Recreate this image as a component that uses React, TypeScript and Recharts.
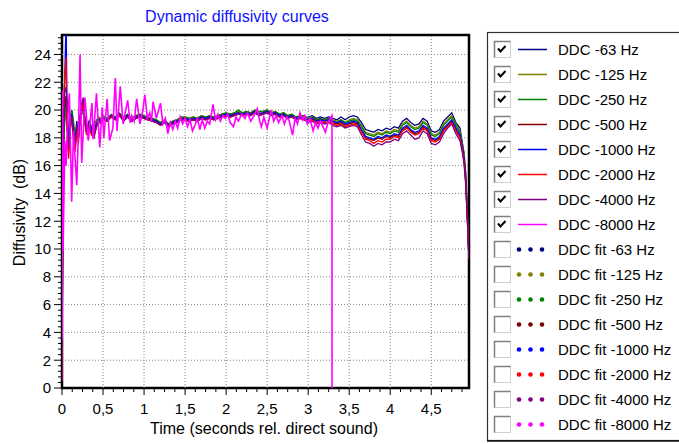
import React from 'react';
import { Line, LineChart, ReferenceArea, ReferenceLine, XAxis, YAxis } from 'recharts';

// time axis shared by the 63..4000 Hz curves (seconds rel. direct sound)
const TIME = [
  0, 0.01, 0.02, 0.03, 0.04, 0.05, 0.06, 0.08, 0.1, 0.12, 0.14, 0.16, 0.18, 0.2, 0.22, 0.24, 0.26, 0.28, 0.3, 0.33, 0.36, 0.39, 0.42, 0.45, 0.48,
  0.5, 0.55, 0.6, 0.65, 0.7, 0.75, 0.8, 0.85, 0.9, 0.95,
  1, 1.05, 1.1, 1.15, 1.2, 1.25, 1.3, 1.35, 1.4, 1.45,
  1.5, 1.55, 1.6, 1.65, 1.7, 1.75, 1.8, 1.85, 1.9, 1.95,
  2, 2.05, 2.1, 2.15, 2.2, 2.25, 2.3, 2.35, 2.4, 2.45,
  2.5, 2.55, 2.6, 2.65, 2.7, 2.75, 2.8, 2.85, 2.9, 2.95,
  3, 3.05, 3.1, 3.15, 3.2, 3.25, 3.3, 3.35, 3.4, 3.45,
  3.5, 3.55, 3.6, 3.65, 3.7, 3.75, 3.8, 3.85, 3.9, 3.95,
  4, 4.05, 4.1, 4.15, 4.2, 4.25, 4.3, 4.35, 4.4, 4.45,
  4.5, 4.55, 4.6, 4.65, 4.7, 4.75, 4.8, 4.85,
  4.88, 4.9, 4.92, 4.94, 4.96,
];

const DDC_63 = [
  0.5, 11.5, 16.8, 18.9, 20.1, 20.6, 19.4, 17.6, 19.3, 19.8, 18.6, 17.9, 19.2, 18.3, 19.1, 19.9, 20.3, 19.4, 18.6, 19.2, 18.7, 18.4, 19.0, 19.4, 19.2,
  19.3, 19.2, 19.5, 19.3, 19.6, 19.2, 19.5, 19.2, 19.4, 19.5,
  19.4, 19.3, 19.2, 19.1, 18.9, 19.1, 18.8, 19.0, 19.1, 19.3,
  19.3, 19.2, 19.4, 19.3, 19.4, 19.3, 19.5, 19.4, 19.5, 19.5,
  19.6, 19.5, 19.7, 19.8, 19.6, 19.8, 19.6, 19.9, 19.6, 19.7,
  19.9, 19.7, 19.8, 19.6, 19.7, 19.5, 19.6, 19.5, 19.5, 19.4,
  19.5, 19.6, 19.4, 19.5, 19.4, 19.5, 19.4, 19.3, 19.5, 19.3,
  19.5, 19.6, 19.5, 19.1, 18.6, 18.5, 18.4, 18.6, 18.5, 18.7,
  18.6, 18.8, 18.7, 19.2, 19.4, 19.1, 18.9, 19.0, 19.4, 19.2,
  18.5, 18.4, 18.6, 19.2, 19.5, 19.8, 19.1, 18.7,
  17.6, 16.9, 15.5, 12.8, 9.4,
];

const DDC_125 = [
  0.5, 13.0, 17.5, 19.2, 19.8, 20.2, 19.0, 17.9, 19.0, 20.0, 18.9, 17.6, 19.0, 18.5, 19.3, 20.1, 20.0, 19.2, 18.8, 19.0, 18.5, 18.6, 19.2, 19.5, 19.3,
  19.5, 19.3, 19.6, 19.5, 19.7, 19.4, 19.7, 19.3, 19.6, 19.7,
  19.5, 19.4, 19.4, 19.3, 19.1, 19.3, 19.0, 19.2, 19.3, 19.4,
  19.5, 19.4, 19.5, 19.4, 19.6, 19.5, 19.6, 19.5, 19.6, 19.7,
  19.8, 19.7, 19.8, 19.9, 19.8, 19.9, 19.8, 20.0, 19.8, 19.9,
  20.0, 19.8, 19.9, 19.7, 19.8, 19.6, 19.7, 19.5, 19.6, 19.5,
  19.4, 19.5, 19.3, 19.4, 19.3, 19.4, 19.3, 19.2, 19.3, 19.1,
  19.3, 19.4, 19.3, 18.9, 18.4, 18.3, 18.2, 18.4, 18.3, 18.5,
  18.4, 18.6, 18.5, 19.0, 19.2, 18.9, 18.7, 18.8, 19.2, 19.0,
  18.3, 18.2, 18.4, 19.0, 19.3, 19.6, 19.0, 18.5,
  17.5, 16.8, 15.3, 12.6, 9.3,
];

const DDC_250 = [
  0.5, 14.0, 18.0, 19.5, 20.3, 19.6, 18.4, 18.3, 19.6, 20.0, 19.2, 18.0, 18.8, 18.9, 19.6, 19.8, 19.7, 19.0, 18.9, 18.8, 18.9, 18.8, 19.3, 19.4, 19.4,
  19.6, 19.4, 19.7, 19.5, 19.8, 19.5, 19.7, 19.4, 19.6, 19.7,
  19.6, 19.5, 19.4, 19.3, 19.1, 19.3, 19.0, 19.2, 19.3, 19.5,
  19.5, 19.4, 19.5, 19.4, 19.6, 19.5, 19.6, 19.5, 19.6, 19.7,
  19.8, 19.7, 19.8, 20.0, 19.8, 19.9, 19.8, 20.0, 19.9, 19.9,
  20.0, 19.8, 19.9, 19.7, 19.8, 19.6, 19.7, 19.5, 19.6, 19.6,
  19.4, 19.5, 19.3, 19.4, 19.3, 19.4, 19.2, 19.1, 19.3, 19.1,
  19.2, 19.3, 19.2, 18.8, 18.3, 18.2, 18.1, 18.3, 18.2, 18.4,
  18.3, 18.5, 18.4, 18.9, 19.1, 18.8, 18.6, 18.7, 19.1, 18.9,
  18.2, 18.1, 18.3, 18.9, 19.2, 19.5, 18.9, 18.4,
  17.4, 16.6, 15.1, 12.4, 9.3,
];

const DDC_500 = [
  0.5, 15.0, 19.0, 20.2, 20.8, 21.0, 19.6, 17.0, 18.7, 19.6, 18.0, 17.2, 18.6, 17.9, 19.4, 20.3, 20.6, 19.1, 18.3, 18.9, 18.3, 18.2, 18.9, 19.2, 19.1,
  19.4, 19.3, 19.6, 19.4, 19.7, 19.4, 19.6, 19.3, 19.5, 19.6,
  19.5, 19.4, 19.3, 19.2, 19.0, 19.2, 18.9, 19.1, 19.2, 19.4,
  19.4, 19.3, 19.4, 19.3, 19.5, 19.4, 19.5, 19.4, 19.5, 19.6,
  19.7, 19.6, 19.7, 19.8, 19.7, 19.8, 19.7, 19.9, 19.7, 19.8,
  19.9, 19.7, 19.8, 19.6, 19.7, 19.5, 19.6, 19.4, 19.5, 19.4,
  19.3, 19.4, 19.2, 19.3, 19.2, 19.3, 19.1, 19.0, 19.1, 18.9,
  19.0, 19.1, 19.0, 18.5, 18.0, 17.9, 17.8, 18.0, 17.9, 18.1,
  18.0, 18.2, 18.1, 18.6, 18.8, 18.5, 18.3, 18.4, 18.8, 18.6,
  17.9, 17.8, 18.0, 18.6, 18.9, 19.2, 18.6, 18.1,
  17.2, 16.4, 14.9, 12.2, 9.3,
];

const DDC_1000 = [
  0.5, 16.0, 19.5, 21.5, 24.0, 26.5, 21.0, 18.0, 19.0, 19.7, 18.4, 17.7, 19.0, 18.2, 19.2, 19.9, 20.2, 19.3, 18.5, 19.1, 18.6, 18.3, 19.0, 19.3, 19.2,
  19.4, 19.3, 19.6, 19.4, 19.6, 19.3, 19.6, 19.2, 19.5, 19.6,
  19.5, 19.3, 19.3, 19.2, 19.0, 19.2, 18.9, 19.1, 19.2, 19.3,
  19.4, 19.3, 19.4, 19.3, 19.5, 19.4, 19.5, 19.4, 19.5, 19.6,
  19.7, 19.6, 19.7, 19.8, 19.7, 19.8, 19.7, 19.9, 19.7, 19.8,
  19.9, 19.7, 19.8, 19.6, 19.7, 19.5, 19.6, 19.4, 19.5, 19.4,
  19.3, 19.4, 19.2, 19.3, 19.2, 19.3, 19.2, 19.1, 19.2, 19.0,
  19.1, 19.2, 19.1, 18.6, 18.1, 18.0, 17.9, 18.1, 18.0, 18.2,
  18.1, 18.3, 18.2, 18.7, 18.9, 18.6, 18.4, 18.5, 18.9, 18.7,
  18.0, 17.9, 18.1, 18.7, 19.0, 19.3, 18.7, 18.2,
  17.3, 16.5, 15.0, 12.3, 9.3,
];

const DDC_2000 = [
  0.5, 15.5, 19.8, 21.8, 22.9, 23.8, 19.0, 16.5, 18.4, 19.5, 17.8, 17.0, 18.4, 17.6, 19.0, 20.0, 20.4, 19.0, 18.2, 18.8, 18.2, 18.0, 18.8, 19.1, 19.0,
  19.3, 19.2, 19.5, 19.3, 19.6, 19.3, 19.5, 19.2, 19.4, 19.5,
  19.4, 19.3, 19.2, 19.1, 18.9, 19.1, 18.8, 19.0, 19.1, 19.3,
  19.3, 19.2, 19.3, 19.2, 19.4, 19.3, 19.4, 19.3, 19.4, 19.5,
  19.6, 19.5, 19.6, 19.7, 19.6, 19.7, 19.6, 19.8, 19.6, 19.7,
  19.8, 19.6, 19.7, 19.5, 19.6, 19.4, 19.5, 19.3, 19.4, 19.3,
  19.2, 19.3, 19.1, 19.2, 19.1, 19.2, 19.0, 18.9, 19.0, 18.8,
  18.9, 19.0, 18.9, 18.4, 17.9, 17.8, 17.6, 17.8, 17.7, 17.9,
  17.9, 18.1, 18.0, 18.5, 18.7, 18.4, 18.2, 18.3, 18.7, 18.5,
  17.8, 17.7, 17.9, 18.5, 18.8, 19.1, 18.5, 18.0,
  17.1, 16.3, 14.8, 12.1, 9.3,
];

const DDC_4000 = [
  0.5, 14.5, 19.5, 21.2, 21.6, 21.5, 20.2, 17.2, 18.9, 19.4, 18.2, 17.5, 18.9, 18.0, 19.6, 20.5, 20.9, 19.4, 18.4, 19.0, 18.4, 18.1, 18.8, 19.2, 19.1,
  19.4, 19.2, 19.6, 19.3, 19.7, 19.3, 19.5, 19.2, 19.4, 19.6,
  19.4, 19.3, 19.2, 19.1, 18.9, 19.1, 18.8, 19.0, 19.1, 19.3,
  19.3, 19.2, 19.3, 19.2, 19.4, 19.3, 19.4, 19.3, 19.4, 19.5,
  19.6, 19.5, 19.6, 19.7, 19.6, 19.7, 19.6, 19.8, 19.6, 19.7,
  19.8, 19.6, 19.7, 19.5, 19.6, 19.4, 19.5, 19.3, 19.4, 19.3,
  19.1, 19.2, 19.0, 19.1, 19.0, 19.1, 18.9, 18.8, 18.9, 18.7,
  18.8, 18.9, 18.8, 18.2, 17.7, 17.6, 17.4, 17.6, 17.5, 17.7,
  17.7, 17.9, 17.8, 18.3, 18.5, 18.2, 17.9, 18.0, 18.5, 18.3,
  17.6, 17.5, 17.7, 18.3, 18.7, 19.0, 18.3, 17.8,
  16.9, 16.1, 14.6, 12.0, 9.3,
];

// the 8000 Hz curve has its own sampling and stops at ~3.29 s
const DDC_8000_TIME = [
  0, 0.006, 0.013, 0.035, 0.05, 0.07, 0.09, 0.118, 0.14, 0.16, 0.18, 0.2, 0.22, 0.24, 0.28, 0.32, 0.365, 0.38, 0.42, 0.46, 0.49,
  0.51, 0.55, 0.58, 0.62, 0.65, 0.67, 0.71, 0.745, 0.77, 0.8, 0.83, 0.85, 0.88, 0.91, 0.95, 0.98,
  1.01, 1.04, 1.07, 1.09, 1.11, 1.15, 1.2, 1.23, 1.26, 1.29, 1.32, 1.35, 1.38, 1.41, 1.44, 1.47,
  1.5, 1.53, 1.56, 1.59, 1.62, 1.65, 1.68, 1.71, 1.74, 1.77, 1.8, 1.84, 1.87, 1.9, 1.93, 1.96, 1.99,
  2.02, 2.05, 2.09, 2.12, 2.15, 2.19, 2.23, 2.26, 2.3, 2.34, 2.38, 2.41, 2.43, 2.46,
  2.5, 2.55, 2.58, 2.61, 2.64, 2.68, 2.71, 2.74, 2.77, 2.81, 2.84, 2.87, 2.9, 2.93, 2.96, 2.99,
  3.02, 3.06, 3.09, 3.12, 3.15, 3.18, 3.21, 3.24, 3.27, 3.29, 3.291,
];
const DDC_8000 = [
  3.5, 21.4, 9.9, 17.8, 16.0, 19.5, 21.2, 13.4, 18.5, 16.5, 14.6, 18.5, 24.0, 16.2, 20.9, 17.8, 20.5, 17.9, 21.2, 17.3, 20.2,
  18.0, 20.8, 17.8, 18.7, 22.3, 18.5, 21.7, 19.0, 19.8, 20.7, 19.1, 19.6, 19.2, 20.8, 19.0, 19.8,
  21.1, 19.4, 19.8, 19.2, 20.6, 19.4, 20.5, 19.0, 19.4, 18.3, 19.1, 18.6, 19.2, 18.7, 19.5, 19.0,
  19.4, 18.8, 19.3, 18.5, 18.9, 19.4, 18.6, 19.3, 18.7, 19.2, 19.0, 20.4, 19.3, 19.7, 19.2, 19.6, 19.4,
  19.7, 19.1, 18.8, 19.5, 19.2, 19.7, 19.4, 19.8, 19.2, 19.6, 20.1, 19.2, 18.8, 19.5,
  18.7, 20.0, 19.2, 19.6, 19.1, 19.6, 19.0, 19.5, 19.2, 18.2, 19.4, 19.0, 19.8, 19.3, 19.6, 19.0,
  19.4, 18.5, 19.1, 18.7, 19.2, 18.8, 18.4, 19.1, 19.4, 19.6, 0,
];

const X_MAJOR = [0, 0.5, 1, 1.5, 2, 2.5, 3, 3.5, 4, 4.5];
const X_LABELS = ['0', '0,5', '1', '1,5', '2', '2,5', '3', '3,5', '4', '4,5'];
const Y_MAJOR = [0, 2, 4, 6, 8, 10, 12, 14, 16, 18, 20, 22, 24];
const Y_LABELS = ['0', '2', '4', '6', '8', '10', '12', '14', '16', '18', '20', '22', '24'];

const X_MAX = 4.96;
const Y_MAX = 25.4;
const X_TICKS = Array.from({ length: 40 }, (_, i) => i * 0.125);
const Y_TICKS = Array.from({ length: 64 }, (_, i) => Math.round(i * 4) / 10);

const PLOT_LEFT = 62;
const PLOT_BOTTOM = 388;

const SERIES = [
  { key: 'd63', name: 'DDC -63 Hz', fit: 'DDC fit -63 Hz', color: '#000080', values: DDC_63 },
  { key: 'd125', name: 'DDC -125 Hz', fit: 'DDC fit -125 Hz', color: '#808000', values: DDC_125 },
  { key: 'd250', name: 'DDC -250 Hz', fit: 'DDC fit -250 Hz', color: '#008000', values: DDC_250 },
  { key: 'd500', name: 'DDC -500 Hz', fit: 'DDC fit -500 Hz', color: '#800000', values: DDC_500 },
  { key: 'd1000', name: 'DDC -1000 Hz', fit: 'DDC fit -1000 Hz', color: '#0000FF', values: DDC_1000 },
  { key: 'd2000', name: 'DDC -2000 Hz', fit: 'DDC fit -2000 Hz', color: '#FF0000', values: DDC_2000 },
  { key: 'd4000', name: 'DDC -4000 Hz', fit: 'DDC fit -4000 Hz', color: '#800080', values: DDC_4000 },
];
const MAGENTA = { name: 'DDC -8000 Hz', fit: 'DDC fit -8000 Hz', color: '#FF00FF' };

const chartData = TIME.map((t, i) => {
  const row: Record<string, number> = { t };
  SERIES.forEach((s) => {
    row[s.key] = s.values[i];
  });
  return row;
});
const magentaData = DDC_8000_TIME.map((t, i) => ({ t, v: DDC_8000[i] }));

const LEGEND_ROWS = [
  ...SERIES.map(s => ({ label: s.name, color: s.color, checked: true })),
  { label: MAGENTA.name, color: MAGENTA.color, checked: true },
  ...SERIES.map(s => ({ label: s.fit, color: s.color, checked: false })),
  { label: MAGENTA.fit, color: MAGENTA.color, checked: false },
];

const FONT = '"Liberation Sans", Arial, sans-serif';

const XTick = (props: any) => {
  const { x, payload } = props;
  const idx = X_MAJOR.findIndex(m => Math.abs(m - payload.value) < 1e-6);
  return (
    <g>
      <line x1={x} x2={x} y1={PLOT_BOTTOM} y2={PLOT_BOTTOM + (idx >= 0 ? 7 : 4)} stroke="#000" />
      {idx >= 0 && (
        <text x={x} y={PLOT_BOTTOM + 26} textAnchor="middle" fontSize={15} fill="#000">{X_LABELS[idx]}</text>
      )}
    </g>
  );
};

const YTick = (props: any) => {
  const { y, payload } = props;
  const idx = Y_MAJOR.findIndex(m => Math.abs(m - payload.value) < 1e-6);
  return (
    <g>
      <line x1={PLOT_LEFT} x2={PLOT_LEFT - (idx >= 0 ? 8 : 4)} y1={y} y2={y} stroke="#000" />
      {idx >= 0 && (
        <text x={PLOT_LEFT - 11} y={y + 5.3} textAnchor="end" fontSize={15} fill="#000">{Y_LABELS[idx]}</text>
      )}
    </g>
  );
};

const Checkbox = ({ x, y, checked }: { x: number; y: number; checked: boolean }) => (
  <g>
    <rect x={x + 0.5} y={y + 0.5} width={16} height={16} fill="#fff" stroke="#d0d0d0" />
    <polyline points={`${x + 0.5},${y + 16.5} ${x + 0.5},${y + 0.5} ${x + 16.5},${y + 0.5}`} fill="none" stroke="#808080" strokeWidth={1.5} />
    {checked && (
      <polyline points={`${x + 4},${y + 7.5} ${x + 6.5},${y + 10.5} ${x + 11.5},${y + 5}`} fill="none" stroke="#000" strokeWidth={2} />
    )}
  </g>
);

export default function App() {
  return (
    <div style={{ position: 'absolute', left: 0, top: 0, width: 679, height: 444, background: '#fff', overflow: 'hidden', fontFamily: FONT }}>
      <LineChart width={480} height={444} data={chartData} margin={{ top: 35, right: 11, bottom: 26, left: 22 }}>
        <XAxis
          type="number"
          dataKey="t"
          domain={[0, X_MAX]}
          ticks={X_TICKS}
          interval={0}
          allowDataOverflow
          axisLine={false}
          tickLine={false}
          height={30}
          tick={(p: any) => <XTick {...p} />}
        />
        <YAxis
          type="number"
          domain={[0, Y_MAX]}
          ticks={Y_TICKS}
          interval={0}
          allowDataOverflow
          axisLine={false}
          tickLine={false}
          width={40}
          tick={(p: any) => <YTick {...p} />}
        />
        {X_MAJOR.slice(1).map(v => (
          <ReferenceLine key={`gx${v}`} x={v} stroke="#808080" strokeDasharray="1 2" />
        ))}
        {Y_MAJOR.slice(1).map(v => (
          <ReferenceLine key={`gy${v}`} y={v} stroke="#808080" strokeDasharray="1 2" />
        ))}
        {SERIES.map(s => (
          <Line
            key={s.key}
            type="linear"
            dataKey={s.key}
            name={s.name}
            stroke={s.color}
            strokeWidth={1.3}
            dot={false}
            isAnimationActive={false}
          />
        ))}
        <Line
          data={magentaData}
          type="linear"
          dataKey="v"
          name={MAGENTA.name}
          stroke={MAGENTA.color}
          strokeWidth={1.6}
          dot={false}
          isAnimationActive={false}
        />
        <ReferenceArea x1={0} x2={X_MAX} y1={0} y2={Y_MAX} fill="none" fillOpacity={0} stroke="#000" strokeWidth={2.5} />
      </LineChart>

      <svg width={679} height={444} style={{ position: 'absolute', left: 0, top: 0, pointerEvents: 'none', fontFamily: FONT }}>
        <text x={237} y={21.5} textAnchor="middle" fontSize={16} fill="#1010FF">Dynamic diffusivity curves</text>
        <text x={264} y={434} textAnchor="middle" fontSize={16} fill="#000">Time (seconds rel. direct sound)</text>
        <text transform="translate(24.5, 212.5) rotate(-90)" textAnchor="middle" fontSize={16} fill="#000" style={{ whiteSpace: 'pre' }}>
          {'Diffusivity  (dB)'}
        </text>

        <rect x={487.5} y={32.5} width={300} height={408} fill="#fff" stroke="#333" strokeWidth={1.2} />
        <line x1={487} x2={679} y1={441} y2={441} stroke="#111" strokeWidth={1.5} />
        {LEGEND_ROWS.map((row, i) => {
          const cy = 49.5 + i * 25;
          return (
            <g key={row.label}>
              <Checkbox x={494} y={cy - 8.5} checked={row.checked} />
              {row.checked ? (
                <line x1={518} x2={547} y1={cy} y2={cy} stroke={row.color} strokeWidth={1.5} />
              ) : (
                [519, 530.5, 542].map(dx => <circle key={dx} cx={dx} cy={cy} r={2.3} fill={row.color} />)
              )}
              <text x={558} y={cy + 5} fontSize={15} fill="#000">{row.label}</text>
            </g>
          );
        })}
      </svg>
    </div>
  );
}
